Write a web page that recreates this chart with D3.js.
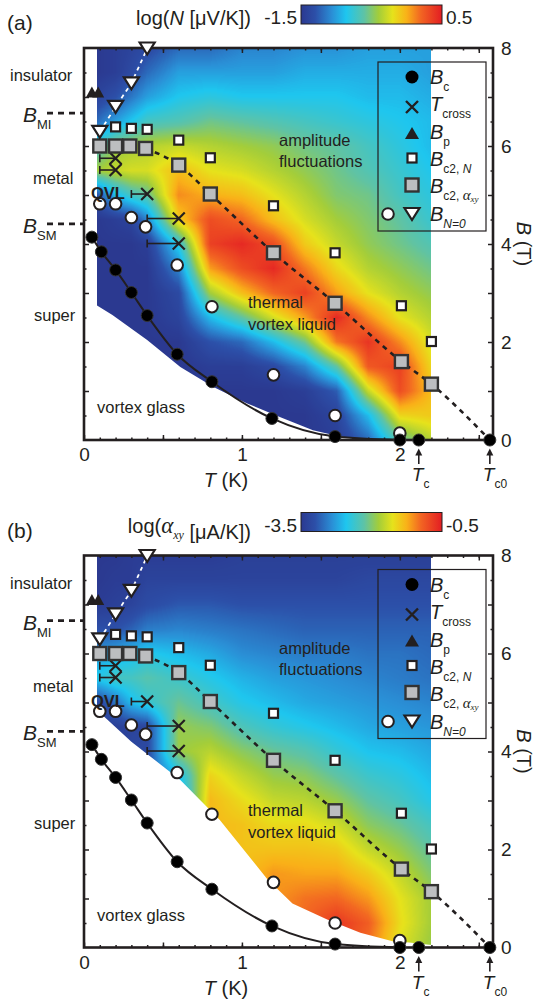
<!DOCTYPE html>
<html>
<head>
<meta charset="utf-8">
<script src="https://cdnjs.cloudflare.com/ajax/libs/d3/7.8.5/d3.min.js"></script>
<style>
body { margin: 0; background: #fff; }
svg { display: block; }
text { font-family: "Liberation Sans", Arial, sans-serif; fill: #231f20; }
.serif { font-family: "Liberation Serif", "DejaVu Serif", serif; }
</style>
</head>
<body>
<svg id="chart" width="535" height="1002"></svg>
<script>
// grid of the colour maps (columns = T, rows = B)
var T_GRID = [0.08, 0.2, 0.3, 0.4, 0.6, 0.8, 1.0, 1.2, 1.4, 1.6, 1.8, 2.0, 2.2];
var B_GRID = [0, 0.5, 1, 1.5, 2, 2.5, 3, 3.5, 4, 4.5, 5, 5.5, 6, 6.5, 7, 7.5, 8];

// log N (uV/K), one array per T column, B = 0 .. 8
var logN = [
  [-1.5,-1.5,-1.5,-1.5,-1.5,-1.5,-1.5,-1.5,-1.5,-1.5,-1.3,-0.4,-0.7,-1.2,-1.4,-1.5,-1.5],
  [-1.5,-1.5,-1.5,-1.5,-1.5,-1.5,-1.5,-1.5,-1.5,-1.45,-0.9,-0.3,-0.45,-1.0,-1.3,-1.45,-1.45],
  [-1.5,-1.5,-1.5,-1.5,-1.5,-1.5,-1.5,-1.5,-1.5,-1.4,-0.7,-0.25,-0.4,-0.85,-1.15,-1.35,-1.4],
  [-1.5,-1.5,-1.5,-1.5,-1.5,-1.5,-1.5,-1.5,-1.45,-1.1,-0.6,-0.25,-0.35,-0.7,-1.0,-1.2,-1.35],
  [-1.5,-1.5,-1.5,-1.5,-1.5,-1.4,-1.35,-1.1,-0.8,-0.1,0.1,-0.05,-0.3,-0.65,-0.85,-1.0,-1.2],
  [-1.5,-1.5,-1.5,-1.45,-1.3,-0.9,-0.4,0.05,0.35,0.3,0.0,-0.2,-0.35,-0.55,-0.8,-1.0,-1.2],
  [-1.5,-1.5,-1.5,-1.45,-1.2,-0.6,-0.05,0.3,0.45,0.2,-0.05,-0.25,-0.4,-0.6,-0.85,-1.0,-1.1],
  [-1.5,-1.5,-1.5,-1.35,-0.9,-0.25,0.2,0.45,0.3,-0.05,-0.2,-0.35,-0.45,-0.65,-0.85,-1.0,-1.1],
  [-1.5,-1.5,-1.45,-1.1,-0.55,0.05,0.35,0.15,-0.1,-0.25,-0.35,-0.45,-0.55,-0.7,-0.85,-0.95,-1.05],
  [-1.45,-1.4,-1.25,-0.6,0.15,0.45,0.05,-0.15,-0.3,-0.4,-0.5,-0.55,-0.6,-0.75,-0.85,-0.95,-1.05],
  [-1.2,-0.9,-0.3,0.25,0.4,0.1,-0.2,-0.35,-0.45,-0.5,-0.55,-0.65,-0.7,-0.8,-0.9,-0.95,-1.0],
  [-0.6,-0.15,0.3,0.35,0.1,-0.2,-0.35,-0.45,-0.55,-0.6,-0.7,-0.75,-0.8,-0.85,-0.9,-0.95,-1.0],
  [-0.35,-0.1,-0.05,-0.15,-0.25,-0.35,-0.45,-0.55,-0.65,-0.75,-0.8,-0.85,-0.9,-0.9,-0.95,-1.0,-1.0]
];

// log alpha_xy (uA/K), same grid
var logAxy = [
  [-3.4,-3.4,-3.4,-3.4,-3.4,-3.4,-3.4,-3.4,-3.4,-3.4,-3.3,-2.5,-2.8,-3.2,-3.45,-3.5,-3.5],
  [-3.4,-3.4,-3.4,-3.4,-3.4,-3.4,-3.4,-3.4,-3.4,-3.4,-3.0,-2.3,-2.7,-3.2,-3.4,-3.45,-3.5],
  [-3.3,-3.3,-3.3,-3.3,-3.3,-3.3,-3.3,-3.3,-3.3,-3.35,-2.6,-2.3,-2.6,-3.1,-3.35,-3.45,-3.45],
  [-3.2,-3.2,-3.2,-3.2,-3.2,-3.2,-3.2,-3.2,-3.3,-3.3,-2.4,-2.2,-2.5,-2.95,-3.25,-3.35,-3.45],
  [-2.8,-2.8,-2.8,-2.8,-2.8,-2.8,-2.8,-2.6,-1.9,-1.9,-2.1,-2.35,-2.6,-2.9,-3.15,-3.35,-3.45],
  [-1.3,-1.3,-1.3,-1.3,-1.3,-1.3,-1.3,-1.45,-1.75,-2.0,-2.3,-2.5,-2.7,-2.95,-3.15,-3.35,-3.45],
  [-1.35,-1.35,-1.35,-1.35,-1.35,-1.35,-1.5,-1.7,-1.95,-2.25,-2.5,-2.65,-2.85,-3.0,-3.2,-3.35,-3.4],
  [-1.15,-1.15,-1.15,-1.15,-1.35,-1.5,-1.7,-1.9,-2.1,-2.4,-2.6,-2.75,-2.9,-3.05,-3.2,-3.35,-3.4],
  [-0.95,-0.95,-1.0,-1.2,-1.35,-1.5,-1.75,-1.95,-2.2,-2.5,-2.7,-2.8,-2.95,-3.1,-3.2,-3.35,-3.4],
  [-0.7,-0.65,-0.95,-1.2,-1.4,-1.65,-1.9,-2.15,-2.4,-2.6,-2.75,-2.85,-2.95,-3.1,-3.2,-3.35,-3.4],
  [-1.0,-0.9,-1.15,-1.4,-1.7,-1.95,-2.15,-2.35,-2.55,-2.7,-2.8,-2.9,-3.0,-3.1,-3.2,-3.3,-3.4],
  [-1.6,-1.5,-1.55,-1.7,-1.9,-2.1,-2.3,-2.45,-2.6,-2.75,-2.85,-2.95,-3.0,-3.1,-3.2,-3.3,-3.4],
  [-1.9,-1.85,-1.85,-2.0,-2.15,-2.3,-2.5,-2.6,-2.7,-2.8,-2.9,-3.0,-3.05,-3.1,-3.2,-3.3,-3.4]
];

// outline of the measured area (T, B)
var maskA_T = [0.08, 2.2, 2.2, 1.75, 1.58, 1.45, 1.24, 1.03, 0.82, 0.61, 0.4, 0.18, 0.08];
var maskA_B = [8, 8, 0, 0, 0.1, 0.2, 0.47, 0.75, 1.08, 1.49, 2.04, 2.55, 2.75];
var maskB_T = [0.08, 2.2, 2.2, 2.06, 1.96, 1.75, 1.54, 1.32, 1.16, 0.86, 0.61, 0.3, 0.08];
var maskB_B = [8, 8, 0.05, 0.1, 0.12, 0.3, 0.57, 0.9, 1.4, 2.6, 3.42, 4.2, 4.85];

// phase boundaries
var BcT = [0.05, 0.11, 0.2, 0.3, 0.4, 0.59, 0.81, 1.19, 1.59, 2.0];
var BcB = [4.14, 3.84, 3.47, 3.01, 2.54, 1.75, 1.19, 0.44, 0.07, 0];
var TcT = [2.12, 2.57];
var crossT = [0.2, 0.2, 0.4, 0.6, 0.6];
var crossB = [5.75, 5.51, 5.02, 4.52, 4.01];
var crossLo = [0.1, 0.1, 0.3, 0.4, 0.4];
var BpT = [0.05, 0.09];
var BpB = [7.1, 7.1];
var Bc2NT = [0.2, 0.3, 0.4, 0.6, 0.8, 1.2, 1.59, 2.01, 2.2];
var Bc2NB = [6.39, 6.36, 6.34, 6.12, 5.76, 4.78, 3.82, 2.74, 2.01];
var Bc2AT = [0.1, 0.2, 0.29, 0.39, 0.6, 0.8, 1.2, 1.59, 2.01, 2.2];
var Bc2AB = [6.0, 6.0, 6.0, 5.95, 5.61, 5.02, 3.82, 2.79, 1.60, 1.14];
var BN0cT = [0.1, 0.2, 0.3, 0.39, 0.59, 0.81, 1.2, 1.59, 2.0];
var BN0cB = [4.82, 4.82, 4.54, 4.35, 3.57, 2.72, 1.33, 0.50, 0.14];
var BN0tT = [0.1, 0.2, 0.3, 0.4];
var BN0tB = [6.29, 6.8, 7.28, 7.99];
var BMI = 6.67, BSM = 4.41;

var CMAP_POS = [0, 0.1, 0.22, 0.32, 0.45, 0.55, 0.65, 0.75, 0.85, 1];
var CMAP_COL = ["#2b3990", "#2c4fa8", "#2a8fd6", "#1ec6ef", "#5fc3a4", "#a3cd3a",
                "#e6e21b", "#f9b118", "#f26522", "#e31d23"];

var svg = d3.select('#chart');
var x = d3.scaleLinear().domain([0, 2.59]).range([84, 493]);
var y = d3.scaleLinear().domain([0, 8]).range([440, 48]);
var pts = function(ts, bs) { return ts.map(function(t, i) { return [t, bs[i]]; }); };

function drawHeat(g, grid, vmin, vmax, mT, mB, id) {
  var x0 = Math.round(x(T_GRID[0])), x1 = Math.round(x(T_GRID[T_GRID.length - 1]));
  var y0 = Math.round(y(8)), y1 = Math.round(y(0));
  var w = x1 - x0, h = y1 - y0;
  var cv = document.createElement('canvas');
  cv.width = w; cv.height = h;
  var ctx = cv.getContext('2d');
  var img = ctx.createImageData(w, h);
  var ti = d3.scaleLinear().domain(T_GRID).range(d3.range(T_GRID.length)).clamp(true);
  var bi = d3.scaleLinear().domain(B_GRID).range(d3.range(B_GRID.length)).clamp(true);
  var cmap = d3.scaleLinear().domain(CMAP_POS).range(CMAP_COL).clamp(true);
  var lut = d3.range(256).map(function(k) { return d3.rgb(cmap(k / 255)); });
  for (var j = 0; j < h; j++) {
    var fb = bi(y.invert(y0 + j + 0.5));
    var b0 = Math.min(Math.floor(fb), B_GRID.length - 2), rb = fb - b0;
    for (var i = 0; i < w; i++) {
      var ft = ti(x.invert(x0 + i + 0.5));
      var t0 = Math.min(Math.floor(ft), T_GRID.length - 2), rt = ft - t0;
      var v = grid[t0][b0] * (1 - rt) * (1 - rb) + grid[t0 + 1][b0] * rt * (1 - rb) +
              grid[t0][b0 + 1] * (1 - rt) * rb + grid[t0 + 1][b0 + 1] * rt * rb;
      var f = Math.max(0, Math.min(1, (v - vmin) / (vmax - vmin)));
      var c = lut[Math.round(f * 255)];
      var p = (j * w + i) * 4;
      img.data[p] = c.r; img.data[p + 1] = c.g; img.data[p + 2] = c.b; img.data[p + 3] = 255;
    }
  }
  ctx.putImageData(img, 0, 0);
  g.append('clipPath').attr('id', id)
    .append('polygon')
    .attr('points', pts(mT, mB).map(function(d) { return x(d[0]) + ',' + y(d[1]); }).join(' '));
  g.append('image')
    .attr('href', cv.toDataURL())
    .attr('x', x0).attr('y', y0).attr('width', w).attr('height', h)
    .attr('preserveAspectRatio', 'none')
    .attr('clip-path', 'url(#' + id + ')');
}

function axes(g) {
  var hide = function(a) { a.select('.domain').remove(); a.selectAll('line').attr('stroke', '#231f20').attr('stroke-width', 1.5); };
  var bot = d3.axisBottom(x).tickValues([0, 0.5, 1, 1.5, 2, 2.5]).tickSize(-5).tickPadding(8)
    .tickFormat(function(d) { return d % 1 === 0 ? d : ''; });
  g.append('g').attr('transform', 'translate(0,' + y(0) + ')').call(bot).call(hide)
    .selectAll('text').style('font-size', '19px').attr('font-family', null);
  g.append('g').attr('transform', 'translate(0,' + y(0) + ')')
    .call(d3.axisBottom(x).tickValues(d3.range(0.1, 2.59, 0.1)).tickSize(-2.5).tickFormat('')).call(hide);
  g.append('g').attr('transform', 'translate(0,' + y(8) + ')')
    .call(d3.axisTop(x).tickValues([0.5, 1, 1.5, 2, 2.5]).tickSize(-5).tickFormat('')).call(hide);
  g.append('g').attr('transform', 'translate(0,' + y(8) + ')')
    .call(d3.axisTop(x).tickValues(d3.range(0.1, 2.59, 0.1)).tickSize(-2.5).tickFormat('')).call(hide);
  g.append('g').attr('transform', 'translate(' + x(2.59) + ',0)')
    .call(d3.axisRight(y).tickValues([1, 2, 3, 4, 5, 6, 7]).tickSize(-5).tickPadding(8)
      .tickFormat(function(d) { return d % 2 === 0 ? d : ''; })).call(hide)
    .selectAll('text').style('font-size', '19px').attr('font-family', null);
  g.append('g').attr('transform', 'translate(' + x(2.59) + ',0)')
    .call(d3.axisRight(y).tickValues([0, 8]).tickSize(0).tickPadding(8)).call(hide)
    .selectAll('text').style('font-size', '19px').attr('font-family', null);
  g.append('g').attr('transform', 'translate(' + x(2.59) + ',0)')
    .call(d3.axisRight(y).tickValues(d3.range(0.5, 8, 1)).tickSize(-2.5).tickFormat('')).call(hide);
  g.append('g').attr('transform', 'translate(' + x(0) + ',0)')
    .call(d3.axisLeft(y).tickValues([1, 2, 3, 4, 5, 6, 7]).tickSize(-5).tickFormat('')).call(hide);
  g.append('g').attr('transform', 'translate(' + x(0) + ',0)')
    .call(d3.axisLeft(y).tickValues(d3.range(0.5, 8, 1)).tickSize(-2.5).tickFormat('')).call(hide);
  g.append('rect').attr('x', x(0)).attr('y', y(8)).attr('width', x(2.59) - x(0)).attr('height', y(0) - y(8))
    .attr('fill', 'none').attr('stroke', '#231f20').attr('stroke-width', 2.6);
}

function triPath(cx, cy, w, hgt, down) {
  var s = down ? 1 : -1;
  return 'M' + (cx - w / 2) + ',' + (cy - s * hgt / 2) + 'L' + (cx + w / 2) + ',' + (cy - s * hgt / 2) +
    'L' + cx + ',' + (cy + s * hgt / 2) + 'Z';
}

function drawMarks(g) {
  // curves
  g.append('path').datum(pts(BcT, BcB))
    .attr('d', d3.line().x(function(d) { return x(d[0]); }).y(function(d) { return y(d[1]); }).curve(d3.curveMonotoneX))
    .attr('fill', 'none').attr('stroke', '#231f20').attr('stroke-width', 2);
  var dl = pts(Bc2AT.slice(3), Bc2AB.slice(3)).concat([[TcT[1], 0]]);
  g.append('path').datum(dl)
    .attr('d', d3.line().x(function(d) { return x(d[0]); }).y(function(d) { return y(d[1]); }).curve(d3.curveMonotoneX))
    .attr('fill', 'none').attr('stroke', '#231f20').attr('stroke-width', 2.6).attr('stroke-dasharray', '5,5');
  g.append('path').datum(pts(BN0tT, BN0tB))
    .attr('d', d3.line().x(function(d) { return x(d[0]); }).y(function(d) { return y(d[1]); }))
    .attr('fill', 'none').attr('stroke', '#fff').attr('stroke-width', 1.8).attr('stroke-dasharray', '4,4');

  // T_cross with error bars
  crossT.forEach(function(t, i) {
    var cx = x(t), cy = y(crossB[i]), lo = x(crossLo[i]);
    g.append('line').attr('x1', lo).attr('x2', cx).attr('y1', cy).attr('y2', cy).attr('stroke', '#231f20').attr('stroke-width', 1.6);
    g.append('line').attr('x1', lo).attr('x2', lo).attr('y1', cy - 4).attr('y2', cy + 4).attr('stroke', '#231f20').attr('stroke-width', 1.6);
    g.append('path').attr('d', 'M' + (cx - 6) + ',' + (cy - 6) + 'L' + (cx + 6) + ',' + (cy + 6) + 'M' + (cx - 6) + ',' + (cy + 6) + 'L' + (cx + 6) + ',' + (cy - 6))
      .attr('stroke', '#231f20').attr('stroke-width', 2.2);
  });

  g.selectAll('.bp').data(pts(BpT, BpB)).enter().append('path')
    .attr('d', function(d) { return triPath(x(d[0]), y(d[1]), 12, 11, false); }).attr('fill', '#231f20');

  g.selectAll('.bc2n').data(pts(Bc2NT, Bc2NB)).enter().append('rect')
    .attr('x', function(d) { return x(d[0]) - 4.5; }).attr('y', function(d) { return y(d[1]) - 4.5; })
    .attr('width', 9).attr('height', 9).attr('fill', '#fff').attr('stroke', '#231f20').attr('stroke-width', 2.2);

  g.selectAll('.bc2a').data(pts(Bc2AT, Bc2AB)).enter().append('rect')
    .attr('x', function(d) { return x(d[0]) - 6.5; }).attr('y', function(d) { return y(d[1]) - 6.5; })
    .attr('width', 13).attr('height', 13).attr('fill', '#bcbec0').attr('stroke', '#333').attr('stroke-width', 2.4);

  g.selectAll('.bn0c').data(pts(BN0cT, BN0cB)).enter().append('circle')
    .attr('cx', function(d) { return x(d[0]); }).attr('cy', function(d) { return y(d[1]); })
    .attr('r', 5.8).attr('fill', '#fff').attr('stroke', '#231f20').attr('stroke-width', 2);

  g.selectAll('.bn0t').data(pts(BN0tT, BN0tB)).enter().append('path')
    .attr('d', function(d) { return triPath(x(d[0]), y(d[1]), 15, 12, true); })
    .attr('fill', '#fff').attr('stroke', '#231f20').attr('stroke-width', 2.2);

  g.selectAll('.bc').data(pts(BcT, BcB).concat(TcT.map(function(t) { return [t, 0]; }))).enter().append('circle')
    .attr('cx', function(d) { return x(d[0]); }).attr('cy', function(d) { return y(d[1]); })
    .attr('r', 6).attr('fill', '#000').attr('stroke', '#333').attr('stroke-width', 1);
}

function subText(g, px, py, main, sub, size, italicSub) {
  var t = g.append('text').attr('x', px).attr('y', py).style('font-size', size + 'px');
  t.append('tspan').text(main).style('font-style', 'italic');
  t.append('tspan').text(sub).attr('dy', 7).style('font-size', Math.round(size * 0.62) + 'px')
    .style('font-style', italicSub ? 'italic' : 'normal');
  return t;
}

function decorations(g, p) {
  // header
  g.append('text').attr('x', 7).attr('y', 30).style('font-size', '21px').text(p.label);
  var ht = g.append('text').attr('x', 251).attr('y', 25).attr('text-anchor', 'end').style('font-size', '20px');
  ht.append('tspan').text('log(');
  if (p.id === 'a') {
    ht.append('tspan').text('N').style('font-style', 'italic');
  } else {
    ht.append('tspan').text('\u03b1').attr('class', 'serif').style('font-style', 'italic').style('font-size', '23px');
    ht.append('tspan').text('xy').attr('class', 'serif').style('font-style', 'italic').style('font-size', '12px').attr('dy', 6);
    ht.append('tspan').text('').attr('dy', -6);
  }
  ht.append('tspan').text(' [\u03bc' + p.unit + '])');
  g.append('text').attr('x', 297).attr('y', 24).attr('text-anchor', 'end').style('font-size', '19px').text(p.lo);
  g.append('text').attr('x', 446).attr('y', 24).style('font-size', '19px').text(p.hi);
  var grad = g.append('linearGradient').attr('id', 'cb' + p.id);
  CMAP_POS.forEach(function(o, i) { grad.append('stop').attr('offset', o).attr('stop-color', CMAP_COL[i]); });
  g.append('rect').attr('x', 301).attr('y', 5).attr('width', 141).attr('height', 19)
    .attr('fill', 'url(#cb' + p.id + ')').attr('stroke', '#231f20').attr('stroke-width', 1);

  // region labels
  var lab = function(px, py, s, bold) {
    g.append('text').attr('x', px).attr('y', py).style('font-size', '16.5px').style('font-weight', bold ? 'bold' : 'normal').text(s);
  };
  lab(10, 81, 'insulator');
  lab(33, 184, 'metal');
  lab(91, 199, 'QVL', true);
  lab(34, 321, 'super');
  lab(97, 413, 'vortex glass');
  lab(279, 146, 'amplitude');
  lab(279, 167, 'fluctuations');
  lab(248, 308, 'thermal');
  lab(248, 330, 'vortex liquid');

  [BMI, BSM].forEach(function(b, i) {
    g.append('line').attr('x1', 47).attr('x2', x(0)).attr('y1', y(b)).attr('y2', y(b))
      .attr('stroke', '#231f20').attr('stroke-width', 2.6).attr('stroke-dasharray', '6,5');
    subText(g, 23, y(b) + 9, 'B', i === 0 ? 'MI' : 'SM', 21, false);
  });

  // axis titles
  var tt = g.append('text').attr('x', 226).attr('y', 487).attr('text-anchor', 'middle').style('font-size', '20px');
  tt.append('tspan').text('T').style('font-style', 'italic');
  tt.append('tspan').text(' (K)');
  var bt = g.append('text').attr('transform', 'translate(517,244) rotate(90)').attr('text-anchor', 'middle').style('font-size', '20px');
  bt.append('tspan').text('B').style('font-style', 'italic');
  bt.append('tspan').text(' (T)');

  // Tc arrows
  TcT.forEach(function(t, i) {
    var cx = x(t);
    g.append('line').attr('x1', cx).attr('x2', cx).attr('y1', 464).attr('y2', 452).attr('stroke', '#231f20').attr('stroke-width', 1.6);
    g.append('path').attr('d', triPath(cx, 452, 7, 7, false)).attr('fill', '#231f20');
    subText(g, cx - 7, 481, 'T', i === 0 ? 'c' : 'c0', 19, false);
  });

  // legend
  g.append('rect').attr('x', 378).attr('y', 62).attr('width', 108).attr('height', 169)
    .attr('fill', 'none').attr('stroke', '#231f20').attr('stroke-width', 1.2);
  var lx = 412, tx = 430;
  g.append('circle').attr('cx', lx).attr('cy', 77).attr('r', 6.5).attr('fill', '#000');
  subText(g, tx, 84, 'B', 'c', 20);
  g.append('path').attr('d', 'M' + (lx - 6) + ',101L' + (lx + 6) + ',113M' + (lx - 6) + ',113L' + (lx + 6) + ',101')
    .attr('stroke', '#231f20').attr('stroke-width', 2.4);
  subText(g, tx, 111, 'T', 'cross', 20);
  g.append('path').attr('d', triPath(lx, 133, 14, 12, false)).attr('fill', '#231f20');
  subText(g, tx, 139, 'B', 'p', 20);
  g.append('rect').attr('x', lx - 4.5).attr('y', 153.5).attr('width', 9).attr('height', 9)
    .attr('fill', '#fff').attr('stroke', '#231f20').attr('stroke-width', 2.2);
  var s1 = subText(g, tx, 166, 'B', 'c2, ', 20);
  s1.append('tspan').text('N').style('font-size', '12px').style('font-style', 'italic');
  g.append('rect').attr('x', lx - 6.5).attr('y', 178.5).attr('width', 13).attr('height', 13)
    .attr('fill', '#bcbec0').attr('stroke', '#333').attr('stroke-width', 2.4);
  var s2 = subText(g, tx, 193, 'B', 'c2, ', 20);
  s2.append('tspan').text('\u03b1').attr('class', 'serif').style('font-size', '15px').style('font-style', 'italic');
  s2.append('tspan').text('xy').attr('class', 'serif').style('font-size', '9px').style('font-style', 'italic').attr('dy', 2);
  g.append('circle').attr('cx', 388).attr('cy', 214).attr('r', 5.8).attr('fill', '#fff').attr('stroke', '#231f20').attr('stroke-width', 2);
  g.append('path').attr('d', triPath(lx, 214, 15, 12, true)).attr('fill', '#fff').attr('stroke', '#231f20').attr('stroke-width', 2.2);
  subText(g, tx, 221, 'B', 'N=0', 20, true);
}

var panels = [
  { id: 'a', dy: 0, grid: logN, vmin: -1.5, vmax: 0.5, mT: maskA_T, mB: maskA_B, label: '(a)', unit: 'V/K', lo: '-1.5', hi: '0.5' },
  { id: 'b', dy: 507.5, grid: logAxy, vmin: -3.5, vmax: -0.5, mT: maskB_T, mB: maskB_B, label: '(b)', unit: 'A/K', lo: '-3.5', hi: '-0.5' }
];

panels.forEach(function(p) {
  var g = svg.append('g').attr('transform', 'translate(0,' + p.dy + ')');
  drawHeat(g, p.grid, p.vmin, p.vmax, p.mT, p.mB, 'clip' + p.id);
  axes(g);
  drawMarks(g);
  decorations(g, p);
});
</script>
</body>
</html>
